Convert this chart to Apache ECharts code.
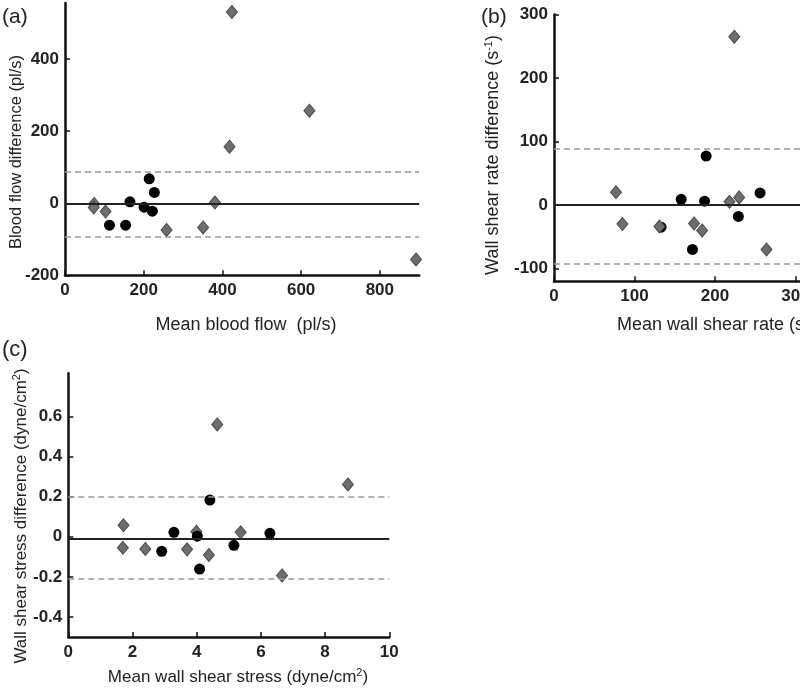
<!DOCTYPE html>
<html><head><meta charset="utf-8">
<script src="https://cdn.jsdelivr.net/npm/echarts@6/dist/echarts.min.js"></script>
<style>html,body{margin:0;padding:0;background:#fff}#c{width:800px;height:688px}</style>
</head><body><div id="c"></div>
<script>
// Panel (a): blood flow
const aCircleX = [113, 154, 165, 201, 214, 222, 227];
const aCircleY = [-61, -61, 4, -11, 68, -22, 30];
const aDiamondX = [74, 73, 103, 258, 351, 381, 418, 424, 621, 892];
const aDiamondY = [-2, -12, -23, -74, -67, 2, 157, 531, 257, -156];
const aLines = [0, 88, -93]; // mean, upper, lower
const aYTicks = [-200, 0, 200, 400];
const aXTicks = [0, 200, 400, 600, 800];

// Panel (b): wall shear rate
const bCircleX = [133, 158, 172, 187, 189, 229, 256];
const bCircleY = [-35, 9, -70, 6, 77, -18, 19];
const bDiamondX = [77, 85, 131, 174, 184, 218, 230, 224, 264];
const bDiamondY = [20, -30, -34, -29, -40, 5, 12, 265, -70];
const bLines = [0, 89, -92];
const bYTicks = [-100, 0, 100, 200, 300];
const bXTicks = [0, 100, 200, 300, 400];

// Panel (c): wall shear stress
const cCircleX = [2.91, 3.29, 4.02, 4.09, 4.41, 5.16, 6.28];
const cCircleY = [-0.073, 0.022, 0.003, -0.161, 0.183, -0.043, 0.017];
const cDiamondX = [1.72, 1.70, 2.40, 3.70, 3.99, 4.38, 4.64, 5.37, 6.66, 8.71];
const cDiamondY = [0.057, -0.055, -0.061, -0.063, 0.025, -0.091, 0.56, 0.022, -0.193, 0.261];
const cLines = [-0.007, 0.201, -0.212];
const cYTicks = [-0.4, -0.2, 0, 0.2, 0.4, 0.6];
const cXTicks = [0, 2, 4, 6, 8, 10];

const zip = (xs, ys) => xs.map((x, i) => [x, ys[i]]);
const FONT = 'Liberation Sans, Arial, sans-serif';
const labelStyle = {fontFamily: FONT, fontSize: 17, fontWeight: 'bold', color: '#222'};

function xAxis(gi, min, max, ticks) {
  return {type: 'value', gridIndex: gi, min, max,
    axisLine: {show: true, onZero: false, lineStyle: {color: '#111', width: 2.5}},
    axisTick: {show: true, inside: true, length: 5, lineStyle: {color: '#111', width: 1.5}, customValues: ticks},
    axisLabel: Object.assign({margin: 7, customValues: ticks}, labelStyle),
    splitLine: {show: false}};
}
function yAxis(gi, min, max, ticks) {
  return {type: 'value', gridIndex: gi, min, max,
    axisLine: {show: true, onZero: false, lineStyle: {color: '#111', width: 2.5}},
    axisTick: {show: true, inside: true, length: 5, lineStyle: {color: '#111', width: 1.5}, customValues: ticks},
    axisLabel: Object.assign({margin: 6, customValues: ticks}, labelStyle),
    splitLine: {show: false}};
}
function lineSeries(gi, vals) {
  return {type: 'scatter', xAxisIndex: gi, yAxisIndex: gi, data: [], silent: true,
    markLine: {silent: true, symbol: 'none', animation: false, label: {show: false},
      data: [
        {yAxis: vals[0], lineStyle: {color: '#222', width: 1.8, type: 'solid'}},
        {yAxis: vals[1], lineStyle: {color: '#999', width: 1.6, type: [6, 4]}},
        {yAxis: vals[2], lineStyle: {color: '#999', width: 1.6, type: [6, 4]}}
      ]}};
}
function circles(gi, xs, ys, z) {
  return {type: 'scatter', xAxisIndex: gi, yAxisIndex: gi, data: zip(xs, ys), z: z,
    symbol: 'circle', symbolSize: 11, itemStyle: {color: '#000', opacity: 1}};
}
function diamonds(gi, xs, ys, z) {
  return {type: 'scatter', xAxisIndex: gi, yAxisIndex: gi, data: zip(xs, ys), z: z,
    symbol: 'diamond', symbolSize: [11, 13], itemStyle: {color: '#6e6e6e', borderColor: '#4a4a4a', borderWidth: 1, opacity: 1}};
}

const chart = echarts.init(document.getElementById('c'), null, {renderer: 'canvas'});
const rich = {sup: {fontSize: 11, verticalAlign: 'top', padding: [0, 0, 9, 0], fontFamily: FONT, color: '#222'}};
const txt = (x, y, text, opts) => Object.assign({type: 'text', x, y, style: Object.assign({text, fontFamily: FONT, fontSize: 18, fill: '#222', rich}, opts || {})});

chart.setOption({
  animation: false,
  backgroundColor: '#fff',
  grid: [
    {left: 65, top: 3, width: 354.2, height: 272.3, outerBoundsMode: 'none', containLabel: false},
    {left: 554, top: 14.5, width: 322, height: 266.7, outerBoundsMode: 'none', containLabel: false},
    {left: 68.3, top: 373.3, width: 321, height: 263.7, outerBoundsMode: 'none', containLabel: false}
  ],
  xAxis: [xAxis(0, 0, 900, aXTicks), xAxis(1, 0, 400, bXTicks), xAxis(2, 0, 10, cXTicks)],
  yAxis: [yAxis(0, -200, 556, aYTicks), yAxis(1, -120, 300, bYTicks), yAxis(2, -0.5, 0.815, cYTicks)],
  series: [
    lineSeries(0, aLines), circles(0, aCircleX, aCircleY, 3), diamonds(0, aDiamondX, aDiamondY, 4),
    lineSeries(1, bLines), circles(1, bCircleX, bCircleY, 3), diamonds(1, bDiamondX, bDiamondY, 4),
    lineSeries(2, cLines), diamonds(2, cDiamondX, cDiamondY, 3), circles(2, cCircleX, cCircleY, 4)
  ],
  graphic: [
    txt(2, 17, '(a)', {fontSize: 21, verticalAlign: 'middle', align: 'left'}),
    txt(481, 17, '(b)', {fontSize: 21, verticalAlign: 'middle', align: 'left'}),
    txt(2, 350, '(c)', {fontSize: 22, verticalAlign: 'middle', align: 'left'}),
    Object.assign(txt(16, 152, 'Blood flow difference (pl/s)', {fontSize: 16.5, align: 'center', verticalAlign: 'middle'}), {rotation: Math.PI / 2}),
    txt(246, 325, 'Mean blood flow  (pl/s)', {align: 'center', verticalAlign: 'middle'}),
    Object.assign(txt(493, 155, 'Wall shear rate difference (s{sup|-1})', {align: 'center', verticalAlign: 'middle'}), {rotation: Math.PI / 2}),
    txt(617, 325, 'Mean wall shear rate (s{sup|-1})', {align: 'left', verticalAlign: 'middle'}),
    Object.assign(txt(21, 516, 'Wall shear stress difference (dyne/cm{sup|2})', {fontSize: 17, align: 'center', verticalAlign: 'middle'}), {rotation: Math.PI / 2}),
    txt(238, 677, 'Mean wall shear stress (dyne/cm{sup|2})', {fontSize: 17, align: 'center', verticalAlign: 'middle'})
  ]
});
</script></body></html>
